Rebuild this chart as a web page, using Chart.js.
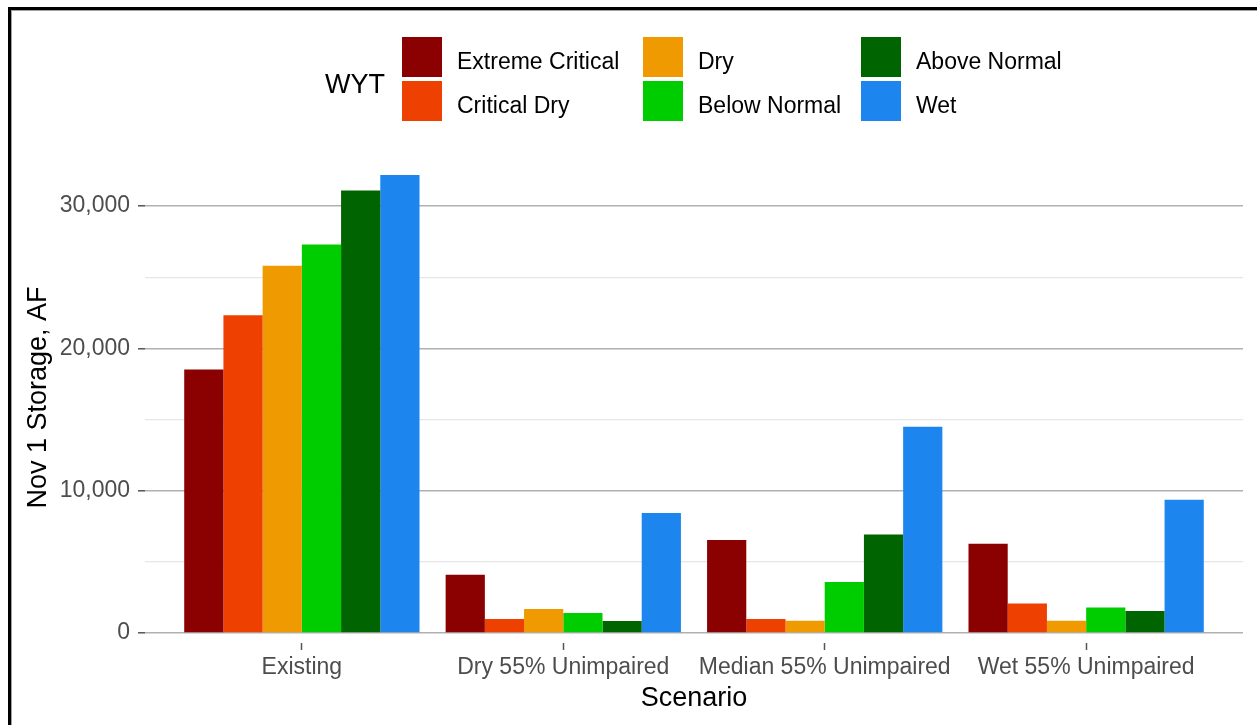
<!DOCTYPE html>
<html>
<head>
<meta charset="utf-8">
<script src="https://cdn.jsdelivr.net/npm/chart.js@4.4.1/dist/chart.umd.min.js"></script>
<style>
  html, body { margin: 0; padding: 0; background: #fff; }
  #wrap { position: relative; width: 1257px; height: 725px; overflow: hidden; font-family: "Liberation Sans", Arial, sans-serif; }
  #frame { position: absolute; left: 8px; top: 7px; width: 1300px; height: 800px; border-top: 3px solid #000; border-left: 3px solid #000; box-shadow: inset 1px 1px 0 #a0a0a0; pointer-events: none; }
  #legend { position: absolute; left: 0; top: 0; width: 1257px; height: 140px; }
  .lg-title { position: absolute; left: 325px; top: 68px; font-size: 27px; line-height: 32px; color: #000; }
  .lg-key { position: absolute; width: 40px; height: 40px; }
  .lg-label { position: absolute; font-size: 23px; line-height: 40px; color: #000; white-space: nowrap; }
</style>
</head>
<body>
<div id="wrap">
  <canvas id="storageChart" width="1257" height="725"></canvas>
  <div id="legend"></div>
  <div id="frame"></div>
</div>
<script>
// scenarios on the x axis
const categories = ['Existing', 'Dry 55% Unimpaired', 'Median 55% Unimpaired', 'Wet 55% Unimpaired'];

// water year types (legend order)
const wytTypes = ['Extreme Critical', 'Critical Dry', 'Dry', 'Below Normal', 'Above Normal', 'Wet'];

// Nov 1 storage (AF) per scenario
const extremeCritical = [18520, 4100, 6540, 6280];
const criticalDry     = [22330, 985, 985, 2080];
const dry             = [25800, 1690, 865, 865];
const belowNormal     = [27300, 1400, 3590, 1800];
const aboveNormal     = [31100, 845, 6930, 1550];
const wet             = [32180, 8440, 14500, 9370];

const yTicks = [0, 5000, 10000, 15000, 20000, 25000, 30000];

const wytColors = ['#8B0000', '#EE4000', '#EE9A00', '#00CD00', '#006400', '#1C86EE'];

const seriesValues = [extremeCritical, criticalDry, dry, belowNormal, aboveNormal, wet];

const datasets = wytTypes.map((name, i) => ({
  label: name,
  data: seriesValues[i].map((v, j) => ({ x: j + 1, y: v })),
  backgroundColor: wytColors[i],
  borderWidth: 0,
  categoryPercentage: 0.9,
  barPercentage: 1.0
}));

const fontFamily = '"Liberation Sans", Arial, sans-serif';

const ctx = document.getElementById('storageChart');
const chart = new Chart(ctx, {
  type: 'bar',
  data: { datasets: datasets },
  options: {
    responsive: false,
    animation: false,
    devicePixelRatio: 1,
    events: [],
    layout: { padding: { left: 22, top: 152, right: 14, bottom: 0 } },
    plugins: {
      legend: { display: false },
      tooltip: { enabled: false }
    },
    scales: {
      x: {
        type: 'linear',
        min: 0.4,
        max: 4.6,
        offset: false,
        afterBuildTicks: scale => {
          scale.ticks = categories.map((c, i) => ({ value: i + 1 }));
        },
        afterFit: scale => { scale.height = 82; },
        border: { display: false },
        grid: {
          offset: false,
          drawOnChartArea: false,
          drawTicks: true,
          tickLength: 7,
          tickColor: '#555',
          tickWidth: 1.5
        },
        ticks: {
          autoSkip: false,
          maxRotation: 0,
          padding: 4,
          color: '#4d4d4d',
          font: { family: fontFamily, size: 23 },
          callback: value => categories[value - 1] || ''
        },
        title: {
          display: true,
          text: 'Scenario',
          color: '#000',
          font: { family: fontFamily, size: 27 },
          padding: { top: 0, bottom: 10 }
        }
      },
      y: {
        min: -700,
        max: 33800,
        afterBuildTicks: scale => {
          scale.ticks = yTicks.map(v => ({ value: v }));
        },
        afterFit: scale => { scale.width = 123; },
        border: { display: false },
        grid: {
          color: c => (c.tick && c.tick.value % 10000 === 0) ? '#b0b0b0' : '#e6e6e6',
          lineWidth: c => (c.tick && c.tick.value % 10000 === 0) ? 1.6 : 1.2,
          tickLength: 7,
          tickColor: c => (c.tick && c.tick.value % 10000 === 0) ? '#555' : 'rgba(0,0,0,0)',
          tickWidth: 1.5
        },
        ticks: {
          padding: 8,
          color: '#4d4d4d',
          font: { family: fontFamily, size: 23 },
          callback: value => value % 10000 === 0 ? value.toLocaleString('en-US') : ''
        },
        title: {
          display: true,
          text: 'Nov 1 Storage, AF',
          color: '#000',
          font: { family: fontFamily, size: 27 },
          padding: 0
        }
      }
    }
  }
});

// legend: title on the left, keys laid out column by column, two rows
const legendEl = document.getElementById('legend');
const keyCols = [402, 643, 861];
const keyRows = [37, 81];
const titleEl = document.createElement('div');
titleEl.className = 'lg-title';
titleEl.textContent = 'WYT';
legendEl.appendChild(titleEl);
chart.data.datasets.forEach((ds, i) => {
  const col = Math.floor(i / 2);
  const row = i % 2;
  const key = document.createElement('div');
  key.className = 'lg-key';
  key.style.left = keyCols[col] + 'px';
  key.style.top = keyRows[row] + 'px';
  key.style.background = ds.backgroundColor;
  legendEl.appendChild(key);
  const label = document.createElement('div');
  label.className = 'lg-label';
  label.style.left = (keyCols[col] + 55) + 'px';
  label.style.top = (keyRows[row] + 4) + 'px';
  label.textContent = ds.label;
  legendEl.appendChild(label);
});
</script>
</body>
</html>
